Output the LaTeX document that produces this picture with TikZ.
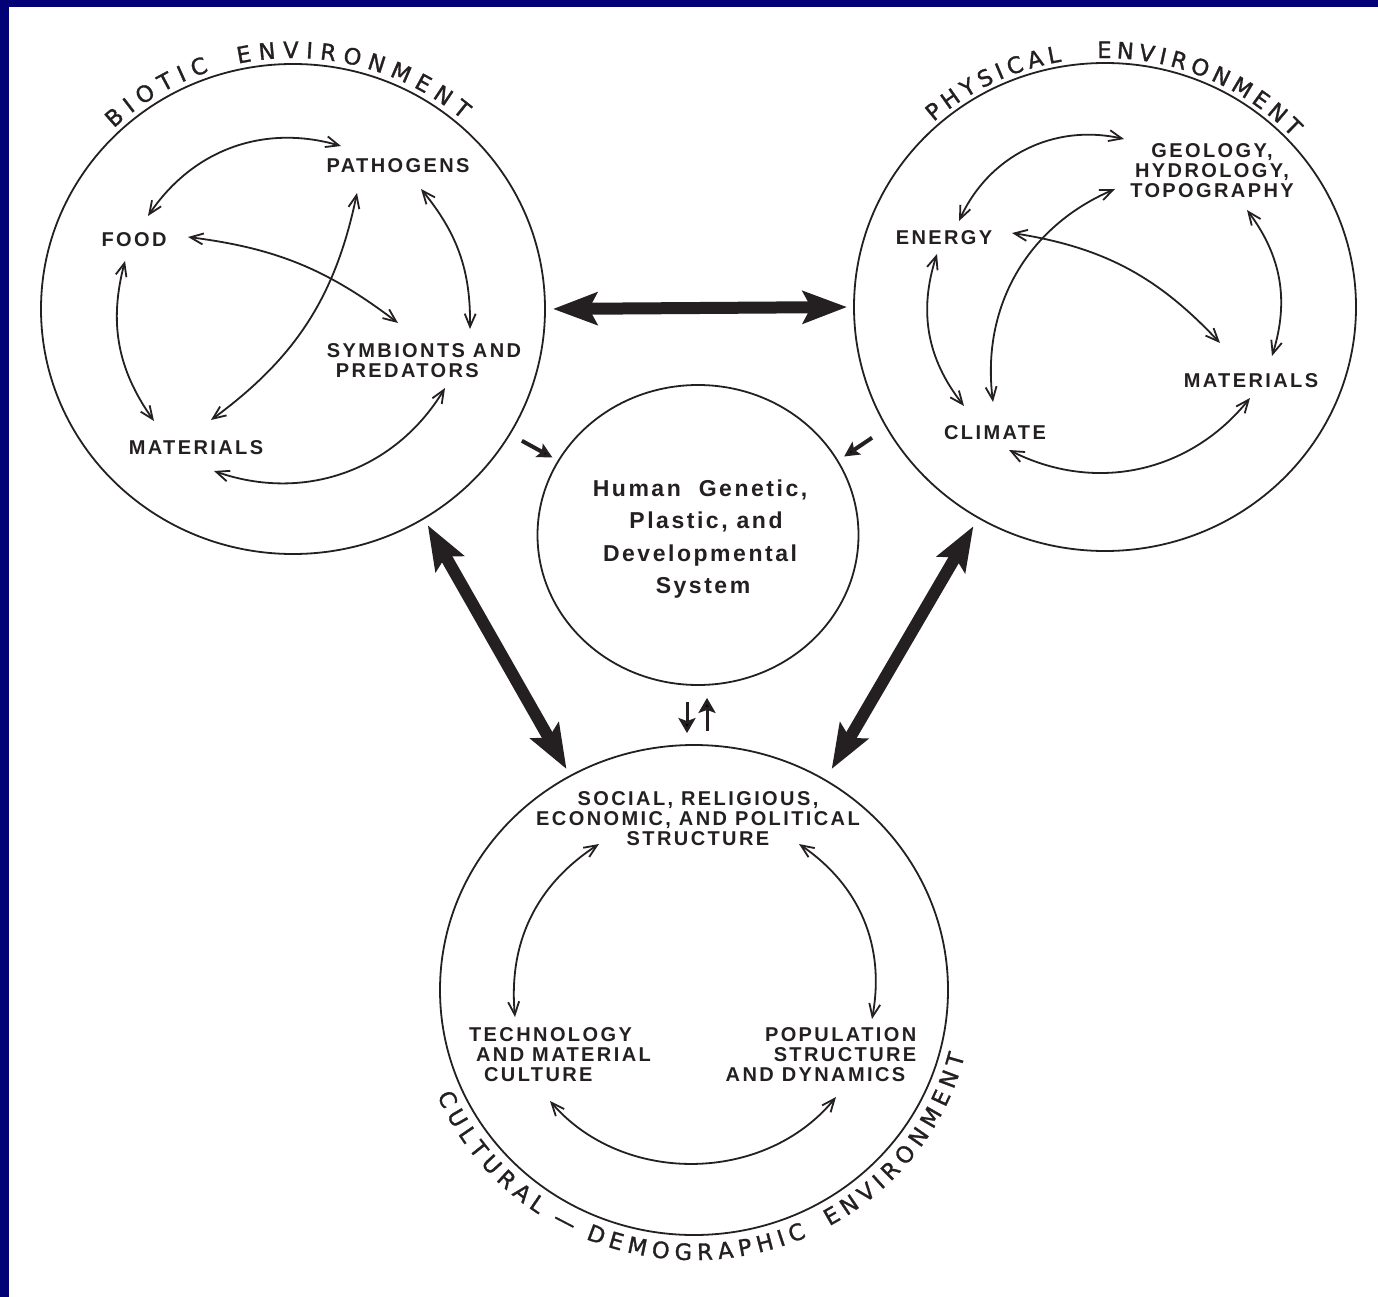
\documentclass[tikz,border=0pt]{standalone}
\usepackage{fontspec}
\setmainfont{Liberation Sans}
\newfontfamily\labfont{Liberation Sans}[LetterSpace=12]
\newfontfamily\humfont{Liberation Sans}[LetterSpace=11]
\newfontfamily\ringfont{DejaVu Sans}[FakeBold=1.3]
\usetikzlibrary{shapes.geometric,arrows.meta,decorations.text,calc}

\definecolor{navy}{RGB}{2,2,118}
\definecolor{ink}{RGB}{36,31,33}

\tikzset{
  ring/.style={ellipse, draw=ink, line width=1.8pt, inner sep=0pt},
  tag/.style={font=\labfont\bfseries\fontsize{20}{20}\selectfont, text=ink, align=center, inner sep=0pt},
  humtext/.style={font=\humfont\bfseries\fontsize{23}{32.3}\selectfont, text=ink, align=center, inner sep=0pt},
  link/.style={draw=ink, line width=1.8pt,
    {Straight Barb[length=13pt,width=11pt]}-{Straight Barb[length=13pt,width=11pt]}},
  bigarrow/.style={draw=ink, line width=12pt,
    {Stealth[length=44pt,width=32pt,inset=8pt]}-{Stealth[length=44pt,width=32pt,inset=8pt]}},
  smallarrow/.style={draw=ink, line width=4pt, -{Stealth[length=15pt,width=15pt,inset=3pt]}},
  tinyarrow/.style={draw=ink, line width=3pt, -{Stealth[length=15pt,width=17pt,inset=3pt]}},
  ringlabel/.style={decorate, decoration={text along path, text align=fit to path,
    text color=ink, text={|\ringfont\fontsize{22.5}{26}\selectfont|#1}}},
}

\begin{document}
\begin{tikzpicture}[x=1pt,y=1pt]
  % page and frame
  \useasboundingbox (0,0) rectangle (1378,-1297);
  \fill[white] (0,0) rectangle (1378,-1297);
  \fill[navy] (0,0) rectangle (1378,-7);
  \fill[navy] (0,0) rectangle (9,-1297);

  % the four systems
  \node[ring, minimum width=504pt, minimum height=490pt] (bio)  at (293,-309) {};
  \node[ring, minimum width=502pt, minimum height=488pt] (phys) at (1105,-307) {};
  \node[ring, minimum width=508pt, minimum height=490pt] (cul)  at (694,-990) {};
  \node[ring, minimum width=321pt, minimum height=300pt] (hum)  at (698,-535) {};

  % ring titles
  \path[ringlabel={BIOTIC{\hspace*{16pt}}ENVIRONMENT}]
    ([shift={(134:258 and 251)}]bio.center) arc[start angle=134, end angle=49, x radius=258, y radius=251];
  \path[ringlabel={PHYSICAL{\hspace*{26pt}}ENVIRONMENT}]
    ([shift={(132:256 and 249)}]phys.center) arc[start angle=132, end angle=43, x radius=256, y radius=249];
  \path[ringlabel={CULTURAL{\hspace*{4pt}}—{\hspace*{4pt}}DEMOGRAPHIC{\hspace*{14pt}}ENVIRONMENT}]
    ([shift={(203:279 and 270)}]cul.center) arc[start angle=203, end angle=346, x radius=279, y radius=270];

  % biotic environment
  \node[tag] (bpath) at (398,-166) {PATHOGENS};
  \node[tag] (bfood) at (134,-240) {FOOD};
  \node[tag, align=left] (bsymb) at (424,-361) {SYMBIONTS AND\\\hspace*{9pt}PREDATORS};
  \node[tag] (bmat) at (196,-448) {MATERIALS};

  \draw[link] ([shift={(14,24)}]bfood.center) to[bend left=36] ([shift={(-57,20)}]bpath.center);
  \draw[link] ([shift={(54,3)}]bfood.center) to[bend left=15] ([shift={(-26,38)}]bsymb.center);
  \draw[link] ([shift={(-41,-27)}]bpath.center) to[bend left=21] ([shift={(15,28)}]bmat.center);
  \draw[link] ([shift={(23,-23)}]bpath.center) to[bend left=20] ([shift={(46,32)}]bsymb.center);
  \draw[link] ([shift={(-9,-21)}]bfood.center) to[bend right=25] ([shift={(-42,27)}]bmat.center);
  \draw[link] ([shift={(18,-23)}]bmat.center) to[bend right=39] ([shift={(21,-27)}]bsymb.center);

  % physical environment
  \node[tag] (pgeo) at (1212,-171) {GEOLOGY,\\HYDROLOGY,\\TOPOGRAPHY};
  \node[tag] (pen) at (944,-238) {ENERGY};
  \node[tag] (pmat) at (1251,-381) {MATERIALS};
  \node[tag] (pcli) at (995,-433) {CLIMATE};

  \draw[link] ([shift={(15,17)}]pen.center) to[bend left=39] ([shift={(-88,32)}]pgeo.center);
  \draw[link] ([shift={(68,5)}]pen.center) to[bend left=19] ([shift={(-31,38)}]pmat.center);
  \draw[link] ([shift={(-2,31)}]pcli.center) to[bend left=37] ([shift={(-97,-18)}]pgeo.center);
  \draw[link] ([shift={(-7,-16)}]pen.center) to[bend right=28] ([shift={(-31,27)}]pcli.center);
  \draw[link] ([shift={(35,-39)}]pgeo.center) to[bend left=27] ([shift={(21,25)}]pmat.center);
  \draw[link] ([shift={(14,-17)}]pcli.center) to[bend right=39] ([shift={(-1,-17)}]pmat.center);

  % cultural-demographic environment
  \node[tag] (csoc) at (698,-819) {SOCIAL, RELIGIOUS,\\ECONOMIC, AND POLITICAL\\STRUCTURE};
  \node[tag, align=left] (ctech) at (560,-1055) {TECHNOLOGY\\\hspace*{7pt}AND MATERIAL\\\hspace*{15pt}CULTURE};
  \node[tag, align=right] (cpop) at (821,-1055) {POPULATION\\STRUCTURE\hspace*{10pt}\\AND DYNAMICS\hspace*{11pt}};

  \draw[link] ([shift={(-99,-25)}]csoc.center) to[bend right=31] ([shift={(-45,38)}]ctech.center);
  \draw[link] ([shift={(101,-25)}]csoc.center) to[bend left=33] ([shift={(51,36)}]cpop.center);
  \draw[link] ([shift={(-10,-46)}]ctech.center) to[bend right=50] ([shift={(15,-42)}]cpop.center);

  % human system
  \node[humtext] (htext) at (700,-539) {Human\hspace{9pt} Genetic,\\\hspace*{12pt}Plastic, and\\Developmental\\\hspace*{6pt}System};

  % links between the systems
  \draw[bigarrow, shorten <=7pt, shorten >=6pt] (bio.east) -- (phys.west);
  \draw[bigarrow, shorten <=7pt, shorten >=7pt] (bio.-58.7) -- (cul.120);
  \draw[bigarrow, shorten <=9pt, shorten >=12pt] (phys.-121) -- (cul.58);

  \draw[smallarrow, shorten <=13pt, shorten >=6pt] (bio.-30.4) -- (hum.152.6);
  \draw[smallarrow, shorten <=17pt, shorten >=7pt] (phys.209.6) -- (hum.28);

  \draw[tinyarrow, shorten <=16pt, shorten >=11pt] ([xshift=-11pt]hum.south) -- ([xshift=-7pt]cul.north);
  \draw[tinyarrow, shorten <=13pt, shorten >=12pt] ([xshift=13pt]cul.north) -- ([xshift=9pt]hum.south);
\end{tikzpicture}
\end{document}
